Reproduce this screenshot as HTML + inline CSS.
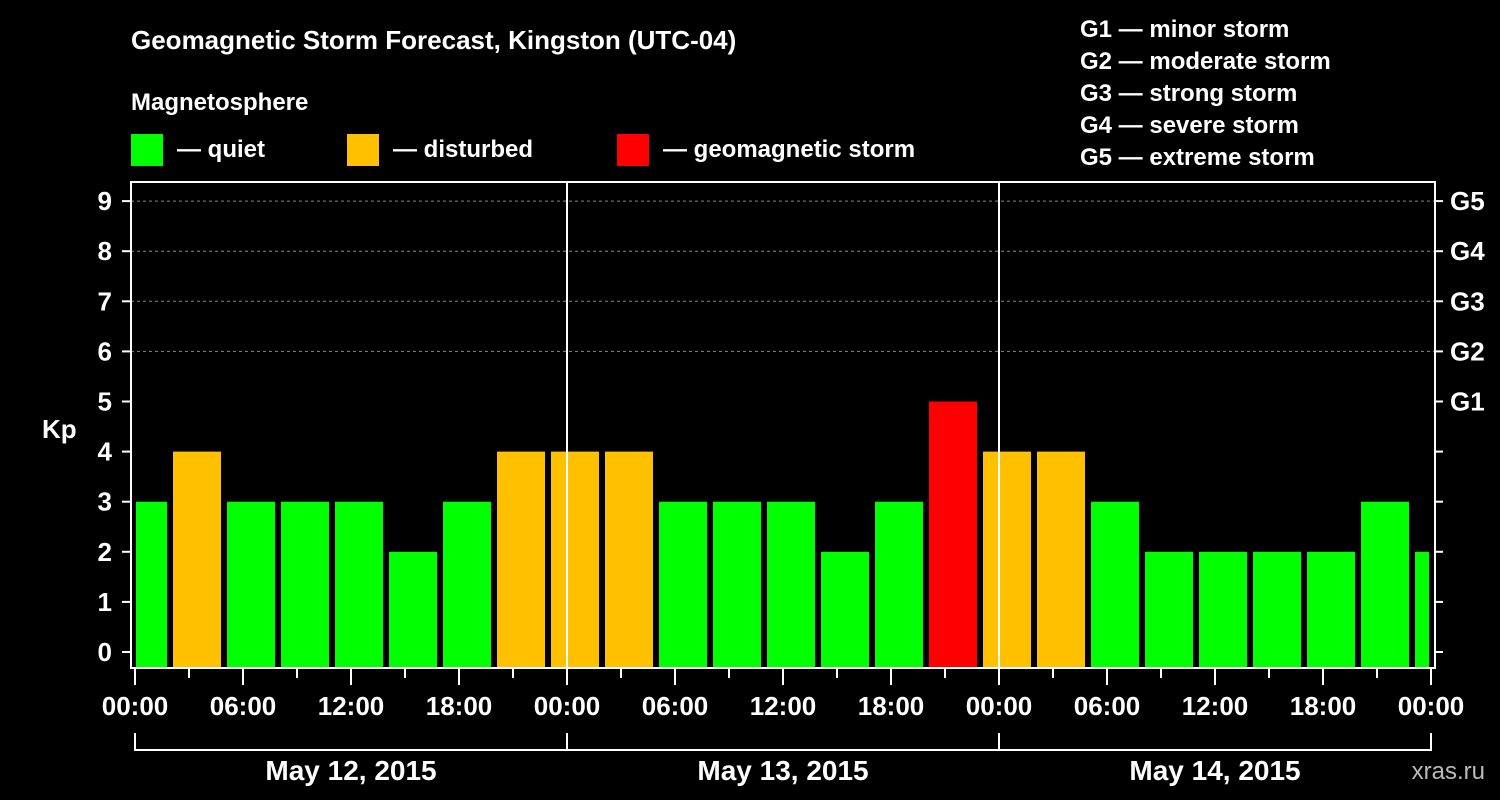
<!DOCTYPE html>
<html><head><meta charset="utf-8"><style>
html,body{margin:0;padding:0;background:#000;width:1500px;height:800px;overflow:hidden}
svg text{font-family:"Liberation Sans",Arial,sans-serif;font-weight:bold;fill:#fff}
</style></head><body>
<svg id="chart" width="1500" height="800" xmlns="http://www.w3.org/2000/svg">
<text x="131" y="49" font-size="26">Geomagnetic Storm Forecast, Kingston (UTC-04)</text>
<text x="131" y="110" font-size="24">Magnetosphere</text>
<g><rect x="131" y="134" width="32" height="32" fill="#00ff00"/><text x="177" y="157" font-size="24">— quiet</text></g>
<g><rect x="347" y="134" width="32" height="32" fill="#ffc000"/><text x="393" y="157" font-size="24">— disturbed</text></g>
<g><rect x="617" y="134" width="32" height="32" fill="#ff0000"/><text x="663" y="157" font-size="24">— geomagnetic storm</text></g>
<g font-size="24">
<text x="1080" y="37">G1 — minor storm</text>
<text x="1080" y="69">G2 — moderate storm</text>
<text x="1080" y="101">G3 — strong storm</text>
<text x="1080" y="133">G4 — severe storm</text>
<text x="1080" y="165">G5 — extreme storm</text>
</g>
<text x="42" y="438" font-size="26">Kp</text>
<text x="1485" y="779" font-size="24" text-anchor="end" fill="#aaa" style="fill:#bbb;font-weight:normal">xras.ru</text>
<g id="grid"></g><g id="bars"></g><g id="axes"></g>
</svg>
<script>
const kpValues=[3,4,3,3,3,2,3,4,4,4,3,3,3,2,3,5,4,4,3,2,2,2,2,3,2];
const yTicks=[0,1,2,3,4,5,6,7,8,9];
const gLabels=["G1","G2","G3","G4","G5"];
const xTickLabels=["00:00","06:00","12:00","18:00","00:00","06:00","12:00","18:00","00:00","06:00","12:00","18:00","00:00"];
const dayLabels=["May 12, 2015","May 13, 2015","May 14, 2015"];
const NS="http://www.w3.org/2000/svg";
const X0=135, PXH=18, PL=131, PR=1435, PT=182, PB=668;
const y=v=>652-v*50.1;
const xh=h=>X0+h*PXH;
function mk(tag,attrs,parent,txt){const e=document.createElementNS(NS,tag);for(const k in attrs)e.setAttribute(k,attrs[k]);if(txt!==undefined)e.textContent=txt;document.getElementById(parent).appendChild(e);return e;}
// grid
for(let v=6;v<=9;v++){const l=mk('line',{x1:PL,x2:PR,y1:y(v),y2:y(v),stroke:'#888','stroke-dasharray':'3,3'},'grid');

}
// bars
kpValues.forEach((v,i)=>{let x1=xh(-1+3*i)+2,x2=x1+48;x1=Math.max(x1,136);x2=Math.min(x2,1429);
const c=v>=5?'#ff0000':(v>=4?'#ffc000':'#00ff00');
const r=mk('rect',{x:x1,y:y(v),width:x2-x1,height:PB-y(v)-1,fill:c},'bars');

});
// day separators
[1,2].forEach(d=>{const l=mk('line',{x1:xh(24*d),x2:xh(24*d),y1:PT,y2:PB,stroke:'#fff','stroke-width':2},'axes');

});
const f=mk('rect',{x:PL,y:PT,width:PR-PL,height:PB-PT,fill:'none',stroke:'#fff','stroke-width':2},'axes');


yTicks.forEach(v=>{mk('line',{x1:122,x2:PL,y1:y(v),y2:y(v),stroke:'#fff','stroke-width':2},'axes');
mk('line',{x1:PR,x2:1443,y1:y(v),y2:y(v),stroke:'#fff','stroke-width':2},'axes');
const t=mk('text',{x:112,y:y(v)+9,'font-size':26,'text-anchor':'end'},'axes',String(v));

});
gLabels.forEach((g,i)=>{const t=mk('text',{x:1450,y:y(5+i)+9,'font-size':26},'axes',g);

});
for(let h=0;h<=72;h+=3){const major=h%6===0;mk('line',{x1:xh(h),x2:xh(h),y1:PB,y2:major?685:678,stroke:'#fff','stroke-width':2},'axes');}
xTickLabels.forEach((s,i)=>{const t=mk('text',{x:xh(6*i),y:715,'font-size':26,'text-anchor':'middle'},'axes',s);

});
mk('path',{d:`M${xh(0)},733V750H${xh(72)}V733`,fill:'none',stroke:'#fff','stroke-width':2},'axes');
[1,2].forEach(d=>mk('line',{x1:xh(24*d),x2:xh(24*d),y1:733,y2:750,stroke:'#fff','stroke-width':2},'axes'));
dayLabels.forEach((s,i)=>{const t=mk('text',{x:xh(24*i+12),y:780,'font-size':28,'text-anchor':'middle'},'axes',s);

});
</script>
</body></html>
